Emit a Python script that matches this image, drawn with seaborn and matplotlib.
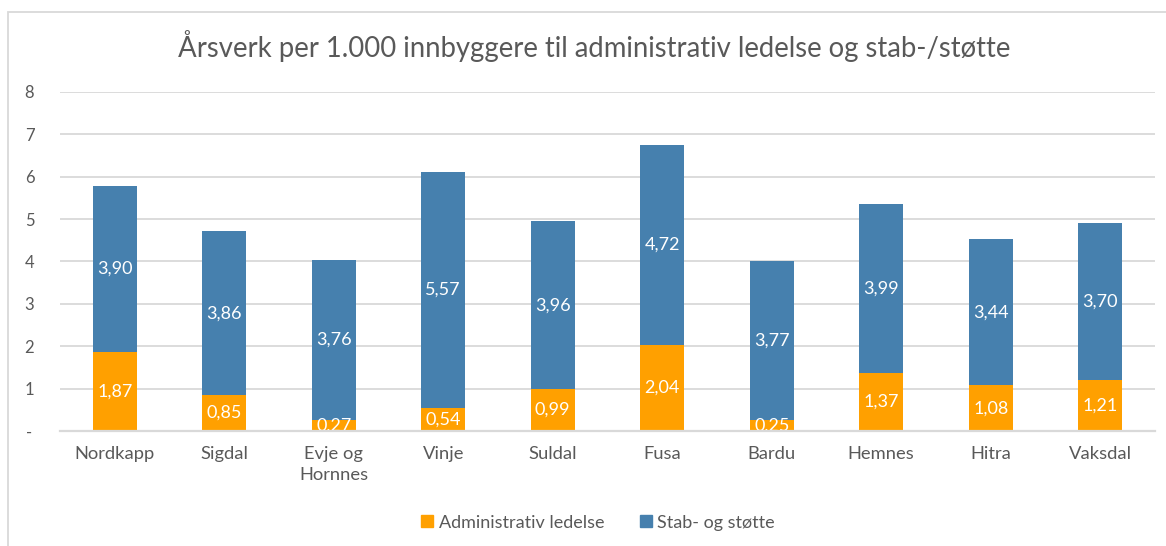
import numpy as np
import pandas as pd
import matplotlib
matplotlib.use("Agg")
import matplotlib.pyplot as plt
from matplotlib.patches import Rectangle
from matplotlib.ticker import FixedLocator, FixedFormatter
import seaborn as sns

categories = ["Nordkapp", "Sigdal", "Evje og\nHornnes", "Vinje", "Suldal",
              "Fusa", "Bardu", "Hemnes", "Hitra", "Vaksdal"]
admin = [1.87, 0.85, 0.27, 0.54, 0.99, 2.04, 0.25, 1.37, 1.08, 1.21]
stab = [3.90, 3.86, 3.76, 5.57, 3.96, 4.72, 3.77, 3.99, 3.44, 3.70]
series_names = ["Administrativ ledelse", "Stab- og støtte"]
yticks = [0, 1, 2, 3, 4, 5, 6, 7, 8]
ytick_labels = ["-", "1", "2", "3", "4", "5", "6", "7", "8"]
title = "Årsverk per 1.000 innbyggere til administrativ ledelse og stab-/støtte"

ORANGE = "#FFA000"
BLUE = "#4680AE"
GRID = "#D9D9D9"
TEXT = "#595959"

sns.set_theme(style="white")
plt.rcParams["font.family"] = ["Lato", "DejaVu Sans"]

df = pd.DataFrame({"kommune": categories, "admin": admin, "stab": stab})

fig = plt.figure(figsize=(11.66, 5.46), dpi=100)
ax = fig.add_axes([0.0515, 0.2106, 0.939, 0.621])

sns.barplot(data=df, x="kommune", y="admin", color=ORANGE, width=0.4,
            saturation=1, ax=ax, linewidth=0, zorder=3)
sns.barplot(data=df, x="kommune", y="stab", bottom=df["admin"].values,
            color=BLUE, width=0.4, saturation=1, ax=ax, linewidth=0, zorder=3)

c_admin, c_stab = ax.containers[0], ax.containers[1]
ax.bar_label(c_admin, labels=[f"{v:.2f}".replace(".", ",") for v in admin],
             label_type="center", color="white", fontsize=13, zorder=4)
ax.bar_label(c_stab, labels=[f"{v:.2f}".replace(".", ",") for v in stab],
             label_type="center", color="white", fontsize=13, zorder=4)

ax.set_ylim(0, 8)
ax.set_xlim(-0.5, len(categories) - 0.5)
ax.yaxis.set_major_locator(FixedLocator(yticks))
ax.yaxis.set_major_formatter(FixedFormatter(ytick_labels))
ax.grid(axis="y", color=GRID, linewidth=1.3, zorder=0)
ax.set_axisbelow(True)
for s in ["top", "right", "left"]:
    ax.spines[s].set_visible(False)
ax.spines["bottom"].set_color(GRID)
ax.spines["bottom"].set_linewidth(1.6)
ax.spines["bottom"].set_zorder(5)
ax.tick_params(axis="both", length=0, colors=TEXT)
ax.tick_params(axis="y", pad=22, labelsize=12)
ax.tick_params(axis="x", pad=11, labelsize=13.2)
for t in ax.get_yticklabels():
    t.set_horizontalalignment("center")
for t in ax.get_xticklabels():
    t.set_linespacing(1.4)
ax.set_xlabel("")
ax.set_ylabel("")

fig.text(0.51, 0.915, title, ha="center", va="center", fontsize=19.8,
         color=TEXT)

handles = [Rectangle((0, 0), 1, 1, color=ORANGE), Rectangle((0, 0), 1, 1, color=BLUE)]
fig.legend(handles, series_names, loc="center", bbox_to_anchor=(0.513, 0.043),
           ncol=2, frameon=False, fontsize=13, labelcolor=TEXT,
           handlelength=0.65, handleheight=0.65, handletextpad=0.3, columnspacing=2.0)

fig.patches.append(Rectangle((8 / 1166, -0.1), 1.2, 1 - 12 / 546 + 0.1,
                             transform=fig.transFigure, fill=False,
                             edgecolor=GRID, linewidth=1.3))

fig.savefig("out.png", dpi=100)
